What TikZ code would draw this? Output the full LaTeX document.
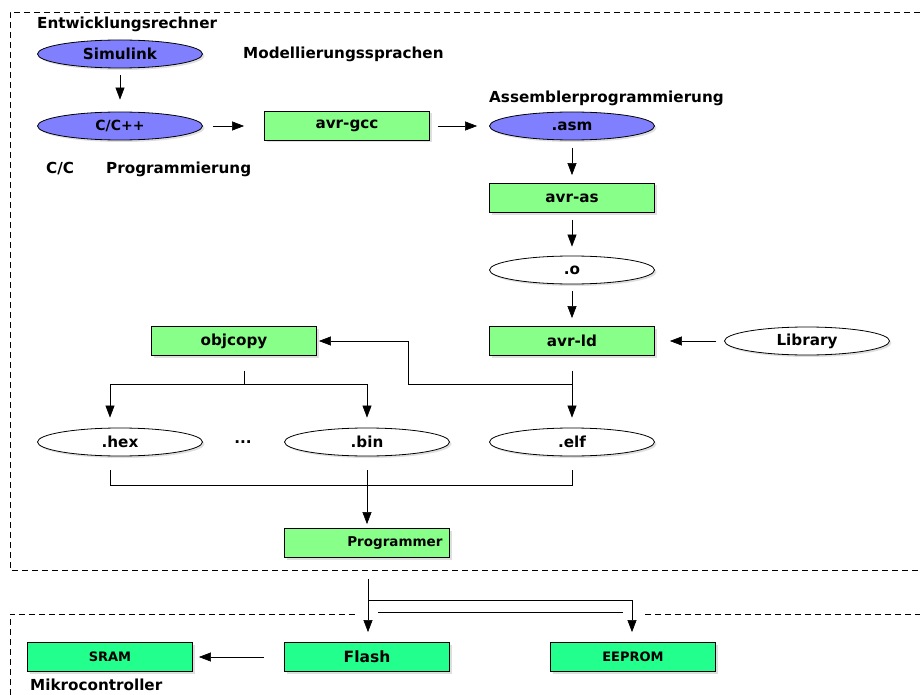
\documentclass[tikz,border=0pt]{standalone}
\usepackage{fontspec}
\setmainfont{DejaVu Sans}
\usetikzlibrary{arrows.meta,shapes.geometric,shadows}
\definecolor{srcblue}{RGB}{128,128,255}
\definecolor{toolgreen}{RGB}{136,255,136}
\definecolor{memgreen}{RGB}{34,255,140}
\begin{document}
\begin{tikzpicture}[x=1pt,y=-1pt,
    font=\bfseries\fontsize{15.2}{18}\selectfont,
    frame/.style={dash pattern=on 6pt off 4pt},
    oval/.style={ellipse, draw, line width=0.8pt, fill=white, minimum width=165pt, minimum height=28pt, inner sep=0pt,
        drop shadow={shadow xshift=2pt, shadow yshift=-2pt, opacity=0.25}},
    src/.style={oval, fill=srcblue},
    toolbox/.style={rectangle, draw, line width=0.8pt, fill=toolgreen, minimum width=165pt, minimum height=29pt, inner sep=0pt,
        drop shadow={shadow xshift=2pt, shadow yshift=-2pt, opacity=0.25}},
    membox/.style={toolbox, fill=memgreen, font=\bfseries\fontsize{13}{15}\selectfont},
    arr/.style={-{Triangle[width=9pt,length=12pt]}, semithick},
    lbl/.style={anchor=west, inner sep=0pt}]
    \useasboundingbox (0,0) rectangle (920,695);
    % frames
    \draw[frame] (920,12) -- (10,12) -- (10,570) -- (920,570);
    \draw[frame] (10,695) -- (10,614) -- (358,614);
    \draw[semithick] (378,612) -- (623,612);
    \draw[frame] (645,614) -- (920,614);
    % labels
    \node[lbl] (host) at (37,24) {Entwicklungsrechner};
    \node[lbl] (model) at (243,54) {Modellierungssprachen};
    \node[lbl] (asmlbl) at (489,98) {Assemblerprogrammierung};
    \node[lbl] (clbl) at (46,169) {C/C};
    \node[lbl] (proglbl) at (106,169) {Programmierung};
    \node[lbl] (mcu) at (30,685) {Mikrocontroller};
    % sources
    \node[src] (simulink) at (120,54) {Simulink};
    \node[src, font=\bfseries\fontsize{14}{16}\selectfont] (cpp) at (120,126) {C/C++};
    \node[toolbox] (gcc) at (347,126) {avr-gcc};
    \node[src] (asm) at (572,126) {.asm};
    \node[toolbox] (as) at (572,198) {avr-as};
    \node[oval] (obj) at (572,270) {.o};
    \node[toolbox] (ld) at (572,341) {avr-ld};
    \node[oval] (lib) at (807,341) {Library};
    \node[toolbox] (objcopy) at (234,341) {objcopy};
    % outputs
    \node[oval] (hex) at (120,442) {.hex};
    \node (dots) at (243,442) {...};
    \node[oval] (bin) at (367,442) {.bin};
    \node[oval] (elf) at (572,442) {.elf};
    \node[toolbox, text width=151pt, inner xsep=7pt, align=right, font=\bfseries\fontsize{13.5}{16}\selectfont] (prog) at (367,543) {Programmer};
    % memories
    \node[membox] (sram) at (110,657) {SRAM};
    \node[membox, font=\bfseries\fontsize{15.5}{18}\selectfont] (flash) at (367,657) {Flash};
    \node[membox] (eeprom) at (633,657) {EEPROM};
    % arrows
    \draw[arr] ([yshift=-7pt]simulink.south) -- ([yshift=12pt]cpp.north);
    \draw[arr] ([xshift=10pt]cpp.east) -- ([xshift=-20pt]gcc.west);
    \draw[arr] ([xshift=8pt]gcc.east) -- ([xshift=-12pt]asm.west);
    \draw[arr] ([yshift=-8pt]asm.south) -- ([yshift=8pt]as.north);
    \draw[arr] ([yshift=-7pt]as.south) -- ([yshift=9pt]obj.north);
    \draw[arr] ([yshift=-7pt]obj.south) -- ([yshift=8pt]ld.north);
    \draw[arr] ([xshift=-8pt]lib.west) -- ([xshift=15pt]ld.east);
    \draw[arr] ([yshift=-15pt]ld.south) -- ([yshift=10pt]elf.north);
    \draw[arr] ([yshift=-28.5pt]ld.south) -| ([xshift=91.5pt]objcopy.east) -- ([xshift=2pt]objcopy.east);
    % objcopy fan-out
    \draw ([xshift=10pt,yshift=-15pt]objcopy.south) -- ++(0,14);
    \draw[arr] ([yshift=-28.5pt]objcopy.south -| bin.north) -| ([xshift=-10pt,yshift=10pt]hex.north);
    \draw[arr] ([yshift=-28.5pt]objcopy.south -| bin.north) -- ([yshift=10pt]bin.north);
    % merge to programmer
    \draw ([xshift=-10pt,yshift=-14pt]hex.south) |- ([yshift=-29pt]elf.south) -- ([yshift=-14pt]elf.south);
    \draw[arr] ([yshift=-14pt]bin.south) -- ([yshift=4pt]prog.north);
    % programmer to memories
    \draw[arr] ([xshift=1pt,yshift=-21pt]prog.south) -- ([xshift=1pt,yshift=10pt]flash.north);
    \draw[arr] ([xshift=1pt,yshift=-42.5pt]prog.south) -| ([xshift=-1pt,yshift=10pt]eeprom.north);
    \draw[arr] ([xshift=-20pt]flash.west) -- ([xshift=6pt]sram.east);
\end{tikzpicture}
\end{document}
